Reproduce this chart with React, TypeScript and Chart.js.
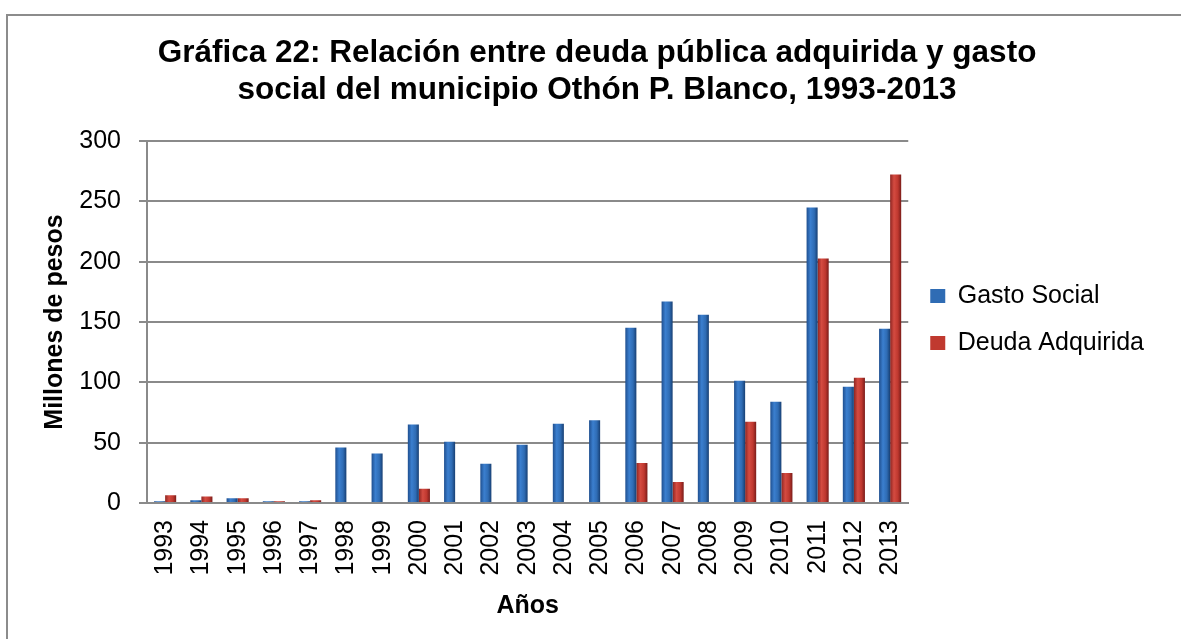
import React, { useEffect, useRef } from "react";
import { Chart, registerables } from "chart.js";

Chart.register(...registerables);

const TITLE_LINES = [
  "Gráfica 22: Relación entre deuda pública adquirida y gasto",
  "social del municipio Othón P. Blanco, 1993-2013",
];
const YEARS = [
  "1993", "1994", "1995", "1996", "1997", "1998", "1999", "2000", "2001", "2002", "2003",
  "2004", "2005", "2006", "2007", "2008", "2009", "2010", "2011", "2012", "2013",
];
const GASTO_SOCIAL = [
  1.4, 2.3, 4.0, 1.4, 1.4, 46, 41, 65, 50.8, 32.6, 48.3,
  65.7, 68.5, 145.3, 166.9, 156.1, 101.3, 83.9, 244.9, 96.3, 144.5,
];
const DEUDA_ADQUIRIDA = [
  6.5, 5.4, 4.0, 1.4, 2.3, 0, 0, 11.9, 0, 0, 0,
  0, 0, 33.2, 17.4, 0, 67.3, 24.9, 202.6, 103.8, 272.3,
];
const SERIES_NAMES = ["Gasto Social", "Deuda Adquirida"];
const Y_MIN = 0;
const Y_MAX = 300;
const Y_STEP = 50;
const Y_TITLE = "Millones de pesos";
const X_TITLE = "Años";

const FONT = "'Liberation Sans', Arial, Helvetica, sans-serif";
const GRID = "#8a8a8a";
const BLUE = "#2f6cb4";
const RED = "#c0392f";
const BLUE_STOPS = ["#1f4f8f", "#3b7fcf", "#2f6cb4", "#173f73"];
const RED_STOPS = ["#8e2521", "#d44b41", "#bf382f", "#7a1c19"];
const CAT_PCT = 0.61;

function barGradient(ctx: any, stops: string[], side: number, fallback: string) {
  const chart = ctx.chart;
  const xs = chart.scales && chart.scales.x;
  if (!xs || !chart.chartArea || typeof ctx.dataIndex !== "number") return fallback;
  const center = xs.getPixelForValue(ctx.dataIndex);
  const w = (xs.width / YEARS.length) * CAT_PCT * 0.5;
  const x0 = side < 0 ? center - w : center;
  const x1 = x0 + w;
  if (!isFinite(x0) || !isFinite(x1)) return fallback;
  const g = chart.ctx.createLinearGradient(x0, 0, x1, 0);
  g.addColorStop(0, stops[0]);
  g.addColorStop(0.35, stops[1]);
  g.addColorStop(0.7, stops[2]);
  g.addColorStop(1, stops[3]);
  return g;
}

export default function App() {
  const canvasRef = useRef<HTMLCanvasElement | null>(null);

  useEffect(() => {
    const canvas = canvasRef.current;
    if (!canvas) return;
    const chart = new Chart(canvas, {
      type: "bar",
      data: {
        labels: YEARS,
        datasets: [
          {
            label: SERIES_NAMES[0],
            data: GASTO_SOCIAL,
            backgroundColor: (c: any) => barGradient(c, BLUE_STOPS, -1, BLUE),
            borderWidth: 0,
            categoryPercentage: CAT_PCT,
            barPercentage: 1.0,
          },
          {
            label: SERIES_NAMES[1],
            data: DEUDA_ADQUIRIDA,
            backgroundColor: (c: any) => barGradient(c, RED_STOPS, 1, RED),
            borderWidth: 0,
            categoryPercentage: CAT_PCT,
            barPercentage: 1.0,
          },
        ],
      },
      options: {
        responsive: false,
        animation: false,
        devicePixelRatio: 1,
        layout: { padding: { left: 40, right: 27, top: 0, bottom: 0 } },
        plugins: {
          title: {
            display: true,
            text: TITLE_LINES,
            color: "#000",
            font: { family: FONT, size: 31.5, weight: "bold", lineHeight: 1.2 },
            padding: { top: 34, bottom: 31.4 },
          },
          legend: {
            position: "right",
            labels: {
              boxWidth: 15,
              boxHeight: 14,
              padding: 22,
              color: "#000",
              font: { family: FONT, size: 25 },
              generateLabels: (ch: any) =>
                SERIES_NAMES.map((name, i) => ({
                  text: name,
                  fillStyle: i === 0 ? BLUE : RED,
                  strokeStyle: i === 0 ? BLUE : RED,
                  lineWidth: 0,
                  hidden: !ch.isDatasetVisible(i),
                  datasetIndex: i,
                  fontColor: "#000",
                })),
            },
          },
          tooltip: { enabled: false },
        },
        scales: {
          x: {
            grid: { display: false, drawTicks: false },
            border: { display: true, color: GRID, width: 2 },
            ticks: {
              minRotation: 90,
              maxRotation: 90,
              autoSkip: false,
              padding: 17,
              color: "#000",
              font: { family: FONT, size: 25 },
            },
            title: {
              display: true,
              text: X_TITLE,
              color: "#000",
              font: { family: FONT, size: 25, weight: "bold", lineHeight: 1.2 },
              padding: { top: 0, bottom: 18 },
            },
            afterFit: (s: any) => {
              s.height = 136;
            },
          },
          y: {
            min: Y_MIN,
            max: Y_MAX,
            ticks: {
              stepSize: Y_STEP,
              padding: 18,
              color: "#000",
              font: { family: FONT, size: 25 },
            },
            grid: { color: GRID, lineWidth: 2, tickLength: 8, tickColor: GRID },
            border: { color: GRID, width: 2 },
            title: {
              display: true,
              text: Y_TITLE,
              color: "#000",
              font: { family: FONT, size: 25, weight: "bold", lineHeight: 1.2 },
              padding: { top: 0, bottom: 0 },
            },
            afterFit: (s: any) => {
              s.width = 107;
            },
          },
        },
      },
    } as any);
    return () => chart.destroy();
  }, []);

  return (
    <div
      style={{
        position: "fixed",
        left: 0,
        top: 0,
        width: 1181,
        height: 639,
        overflow: "hidden",
        background: "#fff",
      }}
    >
      <div
        style={{
          position: "absolute",
          left: 6,
          top: 14,
          width: 1300,
          height: 800,
          border: "2px solid #8c8c8c",
        }}
      />
      <canvas
        ref={canvasRef}
        width={1181}
        height={639}
        style={{ position: "absolute", left: 0, top: 0, width: 1181, height: 639 }}
      />
    </div>
  );
}
